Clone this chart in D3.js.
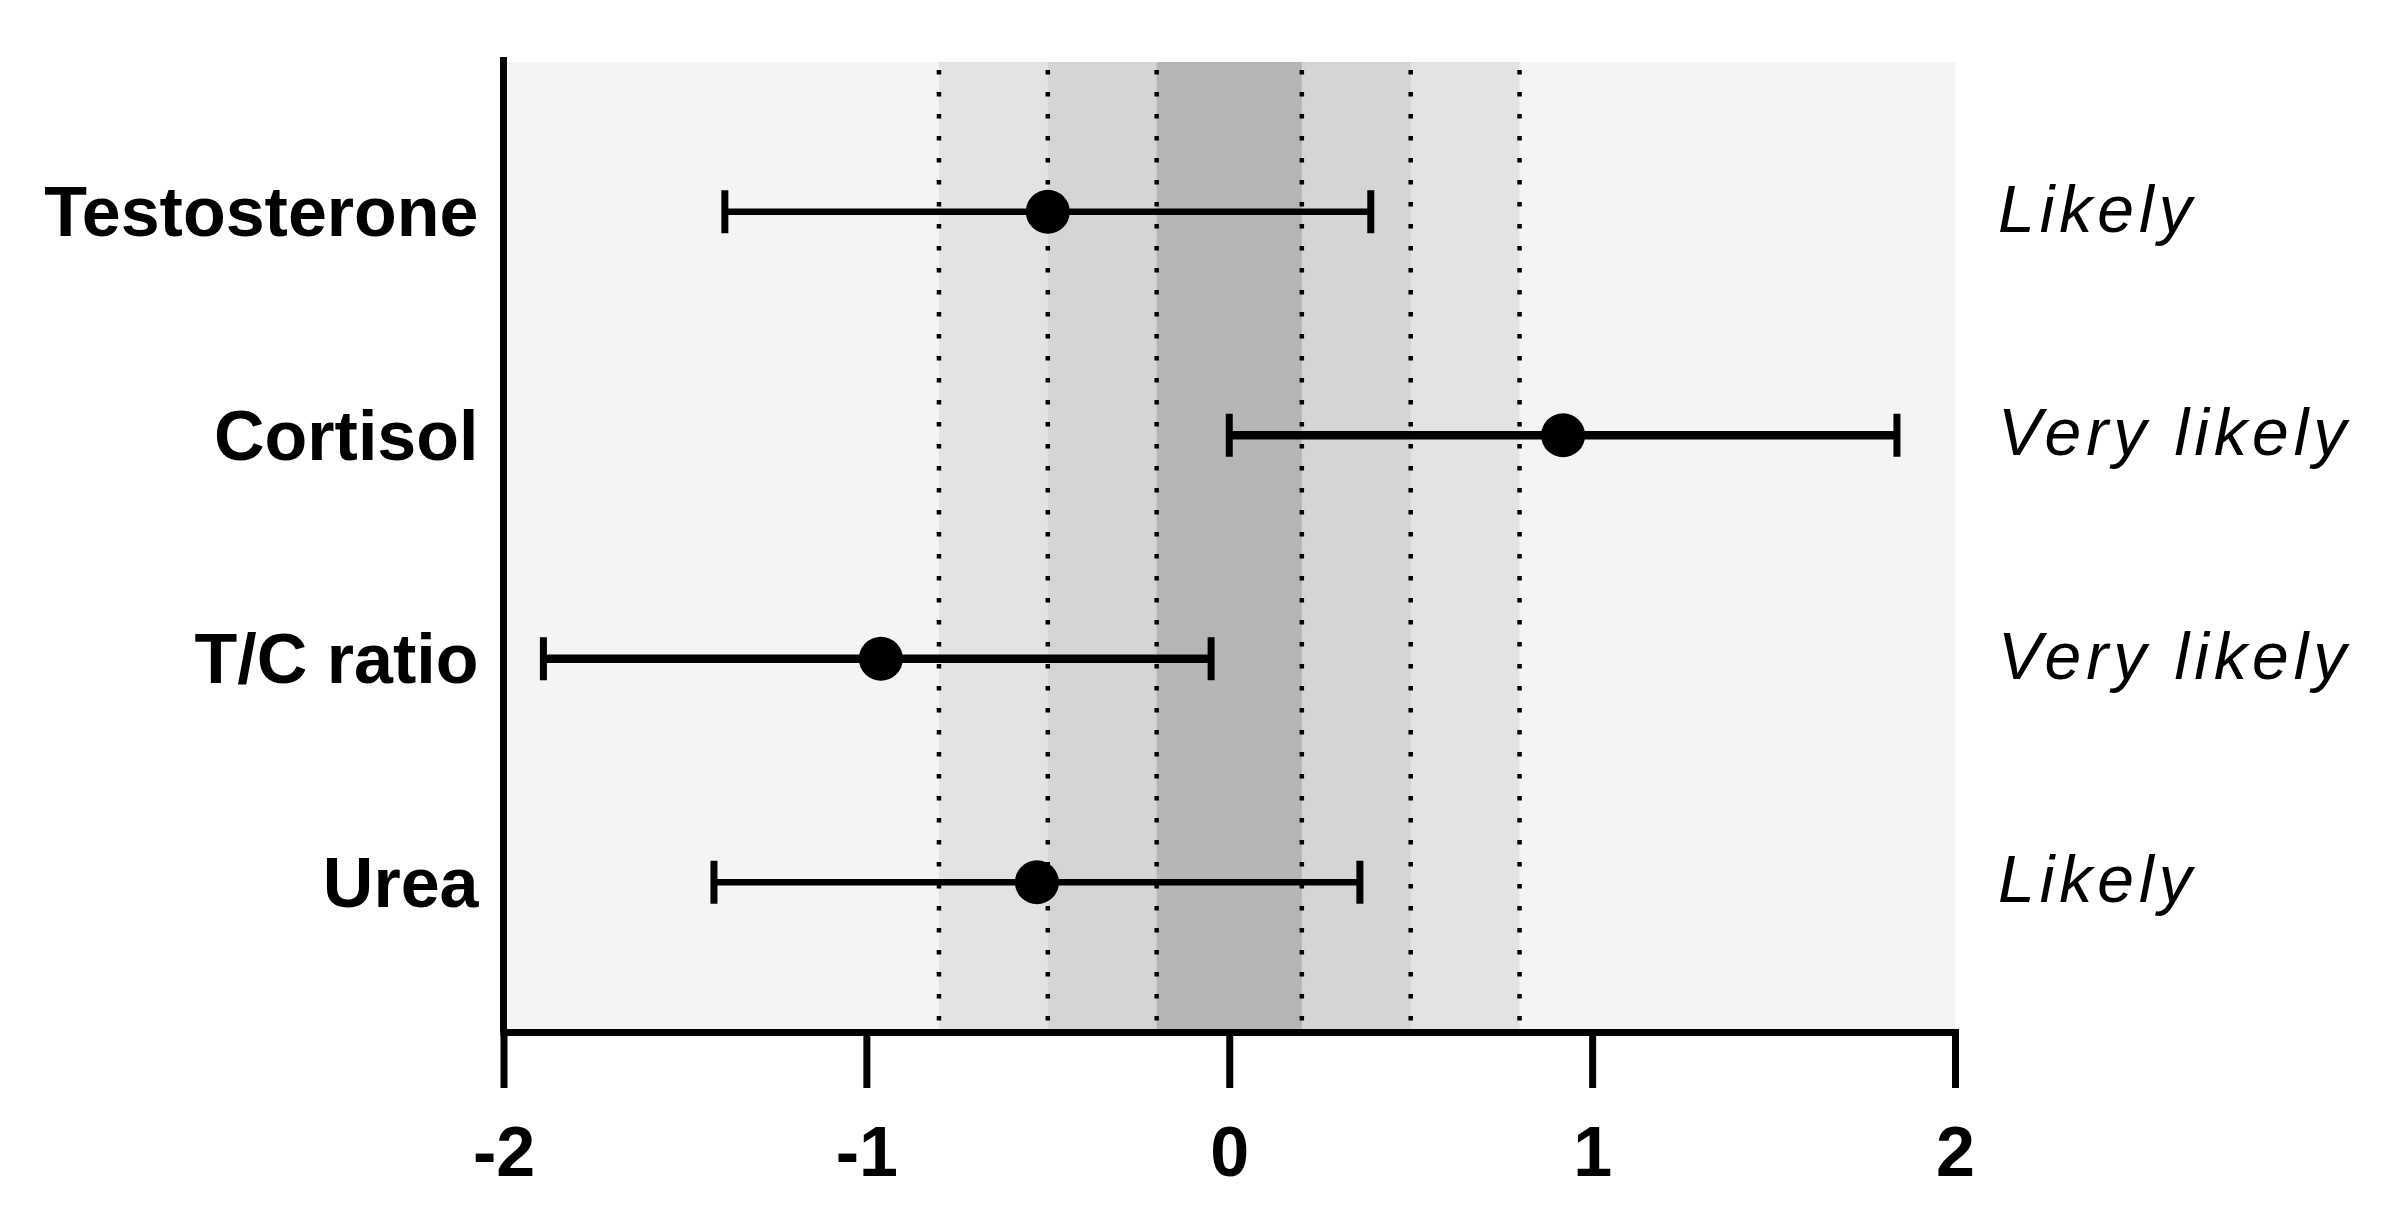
<!DOCTYPE html>
<html>
<head>
<meta charset="utf-8">
<script src="https://cdn.jsdelivr.net/npm/d3@7"></script>
<style>
  html, body { margin: 0; padding: 0; background: #fff; }
  svg { display: block; font-family: "Liberation Sans", Arial, sans-serif; }
</style>
</head>
<body>
<svg id="chart" width="2386" height="1212"></svg>
<script>
// data
var categories = ["Testosterone", "Cortisol", "T/C ratio", "Urea"];
var means = [-0.50, 0.92, -0.96, -0.53];
var lower = [-1.39, 0.00, -1.89, -1.42];
var upper = [0.39, 1.84, -0.05, 0.36];
var outcomes = ["Likely", "Very likely", "Very likely", "Likely"];
var xTicks = [-2, -1, 0, 1, 2];
var bandLimits = [0.8, 0.5, 0.2];
var refLines = [-0.8, -0.5, -0.2, 0.2, 0.5, 0.8];

var cfg = {
  left: 503.5, right: 1955, top: 62, bottom: 1032,
  axisWidth: 7, dotR: 22, capH: 43, capW: 7
};
var bandColors = ["#e3e3e3", "#d5d5d5", "#b6b6b6"];
var barWidth = { "Likely": 6.5, "Very likely": 8.5 };

var svg = d3.select("#chart");

var x = d3.scaleLinear().domain([-2, 2]).range([cfg.left, cfg.right]);
var y = d3.scalePoint().domain(categories).range([cfg.top, cfg.bottom]).padding(0.67);

var rows = categories.map(function(c, i) {
  return { name: c, mean: means[i], lo: lower[i], hi: upper[i], outcome: outcomes[i] };
});

// background and shaded bands
svg.append("rect")
  .attr("x", x(-2)).attr("y", cfg.top)
  .attr("width", x(2) - x(-2)).attr("height", cfg.bottom - cfg.top)
  .attr("fill", "#f4f4f4");

bandLimits.forEach(function(b, i) {
  svg.append("rect")
    .attr("x", x(-b)).attr("y", cfg.top)
    .attr("width", x(b) - x(-b)).attr("height", cfg.bottom - cfg.top)
    .attr("fill", bandColors[i]);
});

svg.selectAll("line.ref").data(refLines).enter().append("line")
  .attr("class", "ref")
  .attr("x1", function(d) { return x(d); }).attr("x2", function(d) { return x(d); })
  .attr("y1", cfg.top + 8).attr("y2", cfg.bottom)
  .attr("stroke", "#000")
  .attr("stroke-width", 4.5)
  .attr("stroke-dasharray", "4.5 17.5");

// x axis
var xAxis = svg.append("g")
  .attr("transform", "translate(0," + cfg.bottom + ")")
  .call(d3.axisBottom(x).tickValues(xTicks).tickSizeInner(56).tickSizeOuter(0).tickPadding(38)
    .tickFormat(d3.format("d")));
xAxis.select(".domain").attr("stroke-width", cfg.axisWidth).attr("stroke-linecap", "square");
xAxis.selectAll(".tick line").attr("stroke-width", cfg.axisWidth);
xAxis.selectAll(".tick text")
  .attr("fill", "#000").attr("font-size", 70).attr("font-weight", "bold")
  .attr("font-family", "Liberation Sans, Arial, sans-serif")
  .text(function(d) { return d < 0 ? "-" + Math.abs(d) : d; });

// y axis
var yAxis = svg.append("g")
  .attr("transform", "translate(" + cfg.left + ",0)")
  .call(d3.axisLeft(y).tickSize(0).tickPadding(25));
yAxis.select(".domain")
  .attr("d", "M0," + (cfg.top - 5) + "V" + cfg.bottom)
  .attr("stroke-width", cfg.axisWidth);
yAxis.selectAll(".tick text")
  .attr("fill", "#000").attr("font-size", 70).attr("font-weight", "bold")
  .attr("font-family", "Liberation Sans, Arial, sans-serif")
  .attr("dy", "0.34em");

// error bars
var g = svg.append("g");
rows.forEach(function(d) {
  var cy = y(d.name);
  var w = barWidth[d.outcome];
  g.append("line")
    .attr("x1", x(d.lo)).attr("x2", x(d.hi))
    .attr("y1", cy).attr("y2", cy)
    .attr("stroke", "#000").attr("stroke-width", w);
  [d.lo, d.hi].forEach(function(v) {
    g.append("line")
      .attr("x1", x(v)).attr("x2", x(v))
      .attr("y1", cy - cfg.capH / 2).attr("y2", cy + cfg.capH / 2)
      .attr("stroke", "#000").attr("stroke-width", cfg.capW);
  });
  g.append("circle")
    .attr("cx", x(d.mean)).attr("cy", cy).attr("r", cfg.dotR)
    .attr("fill", "#000");
});

// outcome labels on the right
svg.selectAll("text.outcome").data(rows).enter().append("text")
  .attr("class", "outcome")
  .attr("x", 1998)
  .attr("y", function(d) { return y(d.name) + 20; })
  .attr("font-size", 66)
  .attr("font-style", "italic")
  .attr("letter-spacing", 5)
  .attr("fill", "#000")
  .text(function(d) { return d.outcome; });
</script>
</body>
</html>
